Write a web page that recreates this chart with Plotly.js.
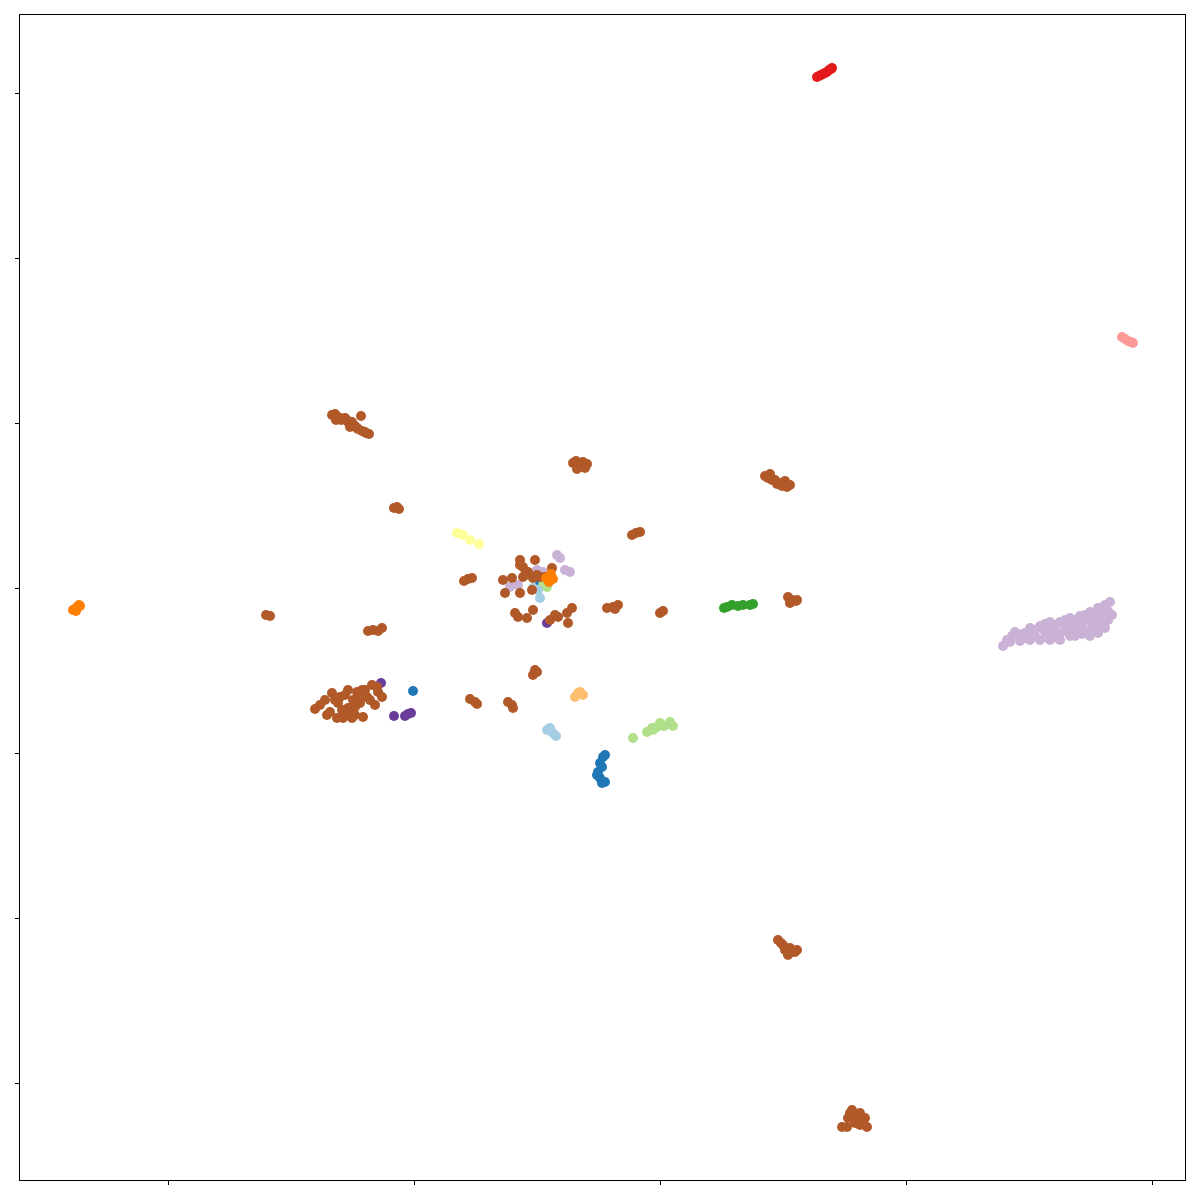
<!DOCTYPE html>
<html>
<head>
<meta charset="utf-8">
<script src="https://cdn.plot.ly/plotly-3.0.1.min.js"></script>
<style>html,body{margin:0;padding:0;background:#fff;}#chart{width:1200px;height:1200px;}</style>
</head>
<body>
<div id="chart"></div>
<script>
// Embedding coordinates (arbitrary units), one group per label
const redX = [15.7,15.9,16.1,16.3,16.5,16.7,16.9,17.1,17.2];
const redY = [51.1,51.2,51.3,51.4,51.5,51.6,51.8,51.9,52.0];

const pinkX = [46.2,46.5,46.8,47.1,47.3];
const pinkY = [25.1,24.9,24.7,24.6,24.5];

const orangeX = [-58.7,-58.5,-58.3,-58.1,-58.0,-58.4,-10.9,-10.7,-11.1,-11.4];
const orangeY = [-2.2,-2.1,-1.9,-1.7,-1.8,-2.3,1.4,0.9,0.6,1.0];

const yellowX = [-20.3,-20.0,-19.7,-19.0,-18.1];
const yellowY = [5.5,5.4,5.3,4.8,4.4];

const lightBlueX = [-12.7,-12.2,-12.0,-11.3,-11.0,-10.7,-10.4];
const lightBlueY = [0.0,-0.2,-1.0,-14.2,-14.0,-14.5,-14.8];

const lightOrangeX = [-8.5,-8.2,-7.7,-8.0];
const lightOrangeY = [-10.9,-10.5,-10.7,-10.4];

const lightGreenX = [-11.7,-11.3,-2.7,-1.3,-0.8,-0.3,0.0,1.0,1.3,-0.7,0.4];
const lightGreenY = [0.3,0.1,-15.0,-14.4,-14.0,-13.9,-13.5,-13.4,-13.8,-14.2,-13.8];

const blueX = [-12.0,-24.7,-5.5,-5.7,-6.0,-5.8,-6.3,-6.0,-5.5,-5.8,-6.2];
const blueY = [0.4,-10.3,-16.7,-16.9,-17.5,-17.9,-18.7,-19.0,-19.4,-19.5,-18.4];

const greenX = [6.4,6.7,7.2,7.8,8.3,9.0,9.3];
const greenY = [-2.0,-1.9,-1.7,-1.8,-1.7,-1.7,-1.6];

const purpleX = [-11.3,-27.9,-26.6,-25.5,-25.2,-24.9];
const purpleY = [-3.5,-9.5,-12.8,-12.8,-12.6,-12.5];

const lightPurpleX = [-10.3,-10.0,-9.5,-9.0,-15.0,-14.2,-12.3,-11.7,
  34.3,34.7,35.2,35.8,36.5,37.0,37.5,38.0,38.5,39.0,39.5,40.0,40.5,41.0,41.5,42.0,42.5,43.0,43.5,44.0,44.5,45.0,
  44.8,44.0,43.3,42.5,41.8,41.0,40.2,39.5,38.8,38.0,37.0,36.2,35.5,37.5,38.5,40.0,41.5,43.0,44.0,40.5,39.0,36.0,42.2,43.8,44.5,45.2,43.8,
  36.5,37.3,38.3,39.3,40.8,41.8,42.8,43.5,44.3,35.0,39.0,41.0,42.2,39.7,43.3,44.8];
const lightPurpleY = [3.3,3.0,1.8,1.6,0.1,0.3,1.8,1.6,
  -5.8,-5.2,-4.8,-4.6,-4.5,-4.0,-4.2,-3.8,-3.6,-3.4,-3.7,-3.4,-3.2,-3.0,-3.2,-2.8,-2.7,-2.4,-2.8,-2.0,-1.7,-1.4,
  -2.3,-3.2,-3.7,-4.2,-4.2,-4.0,-4.4,-4.6,-5.0,-5.2,-5.2,-5.0,-4.4,-4.8,-4.4,-5.2,-4.8,-4.8,-4.0,-3.8,-4.0,-5.3,-3.6,-4.5,-4.0,-2.7,-2.0,
  -5.0,-4.7,-4.1,-4.2,-3.5,-3.6,-3.2,-3.4,-2.6,-5.4,-5.2,-4.8,-4.6,-5.0,-4.2,-3.2];

const brownX = [
  -32.8,-32.5,-32.2,-31.9,-31.7,-31.5,-31.2,-31.0,-30.7,-30.5,-30.3,-29.9,-29.8,-29.5,-29.1,
  -32.0,-31.3,-30.8,-30.2,-29.4,-32.4,-31.0,
  -26.6,-26.3,-26.1,
  -8.7,-8.4,-8.0,-7.7,-7.3,-8.3,-7.5,
  10.5,10.8,11.0,11.5,11.7,12.0,12.5,12.7,13.0,11.2,12.2,
  -2.8,-2.4,-2.0,
  -19.6,-19.2,-18.8,
  -39.4,-39.0,
  -29.2,-28.7,-28.2,-27.8,
  -14.0,-12.5,-13.7,-13.5,-15.7,-14.8,-13.7,-12.7,-12.0,-11.5,-10.8,-15.5,-14.0,-12.8,-14.5,-14.2,-13.3,-12.7,-11.0,-10.5,-10.2,-9.3,-8.8,-9.2,-14.0,-13.2,-12.3,
  -5.3,-4.7,-4.2,-4.5,
  0.0,0.3,
  12.8,13.2,13.6,13.0,13.7,
  -34.5,-34.0,-33.5,-32.8,-32.0,-31.2,-30.3,-29.5,-28.8,-28.2,-27.8,-33.3,-32.3,-31.7,-31.0,-30.5,-30.0,-29.7,-29.3,-30.7,-31.2,-30.8,-28.3,
  -32.5,-31.5,-31.8,-33.0,-30.2,-29.0,-28.5,-29.8,-32.2,-30.5,
  -12.7,-12.3,-12.5,
  -19.0,-18.5,-18.3,
  -15.2,-14.8,-14.7,
  11.8,12.1,12.3,12.8,13.0,13.5,13.7,12.5,13.2,
  18.2,18.7,19.0,19.2,19.3,19.5,20.0,20.0,20.3,20.7,18.8,19.7,20.5];
const brownY = [
  17.3,17.4,17.1,16.8,16.9,17.0,16.6,16.5,16.3,16.2,16.0,17.2,15.7,15.6,15.4,
  17.0,16.8,16.6,15.9,15.5,16.8,16.1,
  8.0,8.1,7.9,
  12.5,12.7,12.3,12.6,12.4,11.9,12.0,
  11.2,11.0,11.4,10.8,10.4,10.5,10.7,10.1,10.3,10.8,10.2,
  5.3,5.5,5.6,
  0.7,0.9,1.0,
  -2.7,-2.8,
  -4.3,-4.2,-4.3,-4.0,
  2.8,2.8,2.1,1.3,0.8,1.0,1.1,1.0,1.1,1.1,2.0,-0.5,-0.5,-0.2,-2.5,-2.9,-3.0,-2.2,-3.2,-2.7,-2.9,-2.5,-2.0,-3.5,2.3,1.6,1.3,
  -2.0,-1.9,-1.7,-2.1,
  -2.5,-2.3,
  -0.9,-1.2,-1.3,-1.5,-1.2,
  -12.1,-11.7,-11.2,-10.5,-10.9,-10.2,-10.4,-10.2,-9.7,-10.4,-10.9,-12.7,-13.0,-13.0,-12.5,-11.9,-11.5,-12.9,-10.9,-11.2,-12.0,-13.0,-9.9,
  -11.2,-10.7,-12.2,-12.4,-11.0,-11.2,-11.7,-10.2,-11.5,-12.7,
  -8.7,-8.4,-8.2,
  -11.1,-11.4,-11.6,
  -11.4,-11.7,-12.0,
  -35.2,-35.5,-35.7,-36.7,-36.0,-36.4,-36.2,-36.2,-36.4,
  -53.9,-53.9,-52.5,-52.2,-52.9,-53.5,-52.5,-53.7,-53.4,-53.9,-53.0,-53.0,-53.0];

const groups = [
  {x: purpleX, y: purpleY, color: '#6a3d9a'},
  {x: blueX, y: blueY, color: '#1f78b4'},
  {x: lightGreenX, y: lightGreenY, color: '#b2df8a'},
  {x: lightBlueX, y: lightBlueY, color: '#a6cee3'},
  {x: lightPurpleX, y: lightPurpleY, color: '#cab2d6'},
  {x: brownX, y: brownY, color: '#b15928'},
  {x: orangeX, y: orangeY, color: '#ff7f00'},
  {x: greenX, y: greenY, color: '#33a02c'},
  {x: pinkX, y: pinkY, color: '#fb9a99'},
  {x: redX, y: redY, color: '#e31a1c'},
  {x: lightOrangeX, y: lightOrangeY, color: '#fdbf6f'},
  {x: yellowX, y: yellowY, color: '#ffff99'}
];

const traces = groups.map(g => ({
  type: 'scatter', mode: 'markers', x: g.x, y: g.y,
  marker: {color: g.color, size: 10, line: {width: 0}},
  hoverinfo: 'x+y', showlegend: false
}));

const axisCommon = {
  showgrid: false, zeroline: false, showticklabels: false,
  ticks: 'outside', ticklen: 4, tickwidth: 1, tickcolor: '#000',
  showline: true, mirror: true, linecolor: '#000', linewidth: 1
};

const layout = {
  width: 1200, height: 1200,
  margin: {l: 20, r: 15, t: 15, b: 20},
  paper_bgcolor: '#fff', plot_bgcolor: '#fff',
  xaxis: Object.assign({}, axisCommon, {range: [-64, 52.5], tickmode: 'array', tickvals: [-49.2, -24.6, 0, 24.6, 49.2]}),
  yaxis: Object.assign({}, axisCommon, {range: [-59.2, 57.3], tickmode: 'array', tickvals: [-49.5, -33, -16.5, 0, 16.5, 33, 49.5]}),
  showlegend: false
};

Plotly.newPlot('chart', traces, layout, {displayModeBar: false, staticPlot: true});
</script>
</body>
</html>
